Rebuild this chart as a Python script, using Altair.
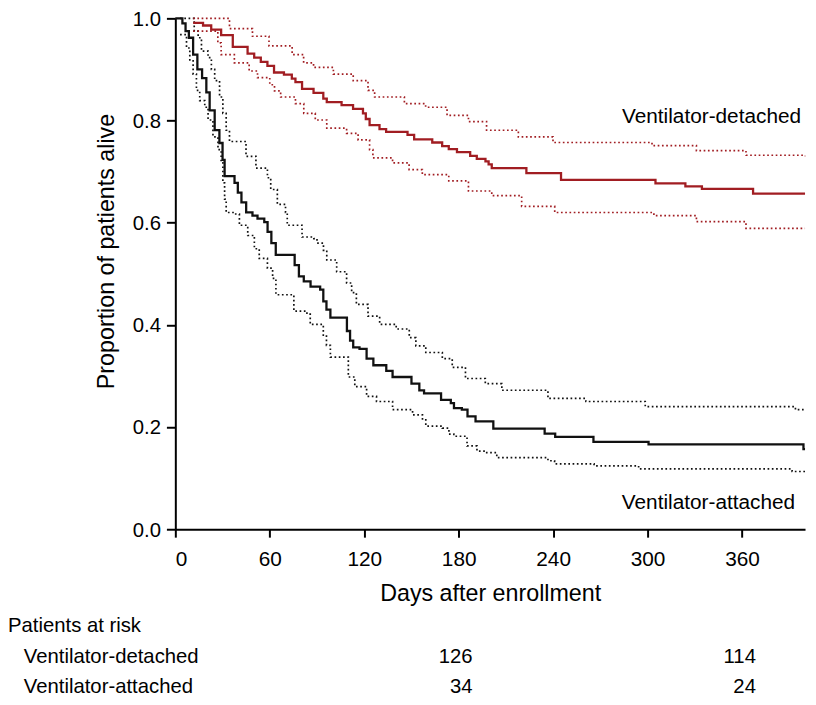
import altair as alt
import pandas as pd

FONT = "Liberation Sans"

# ---- Kaplan-Meier estimates (step-after) ----
att_days = [0, 4.5, 6.5, 8.6, 11.3, 14, 17, 19.7, 21.8, 25, 28, 30, 31.3, 37.6, 39.7, 42, 45, 49,
            52.2, 56.5, 58.6, 61, 63.8, 75.8, 78.5, 81.6, 85.9, 92, 94, 96, 98.5, 109, 111, 113,
            117, 121.5, 125.8, 134, 138, 150, 155, 158, 168.8, 175, 177, 182, 185.6, 190.7, 202,
            234.6, 241.3, 265.6, 300.6, 399, 400]
att_surv = [1.0, 0.99, 0.975, 0.962, 0.929, 0.900, 0.883, 0.855, 0.820, 0.781, 0.756, 0.723, 0.691,
            0.678, 0.659, 0.640, 0.620, 0.614, 0.608, 0.601, 0.582, 0.560, 0.537, 0.517, 0.495,
            0.485, 0.475, 0.469, 0.446, 0.430, 0.414, 0.388, 0.369, 0.356, 0.353, 0.334, 0.321,
            0.310, 0.298, 0.285, 0.272, 0.266, 0.253, 0.247, 0.237, 0.234, 0.221, 0.211, 0.197,
            0.187, 0.181, 0.171, 0.166, 0.157, 0.157]

att_up_days = [3, 12, 14.5, 16.6, 20.8, 22.9, 25, 28.1, 30.2, 32.3, 34.4, 44.9, 51.2, 58.5, 60.6,
               64.8, 70, 71.1, 80.5, 88, 90, 94.1, 96.2, 102.5, 108.8, 112, 115, 122.4, 129.8,
               140.3, 148.6, 152.8, 159.1, 169.6, 175.9, 184.3, 196.9, 207.4, 236.7, 260.8, 298.5,
               393.9, 400]
att_up = [1.0, 0.975, 0.962, 0.936, 0.923, 0.900, 0.878, 0.846, 0.814, 0.781, 0.759, 0.730, 0.707,
          0.688, 0.665, 0.636, 0.620, 0.595, 0.572, 0.569, 0.560, 0.546, 0.527, 0.504, 0.482,
          0.463, 0.440, 0.417, 0.401, 0.392, 0.375, 0.359, 0.346, 0.334, 0.317, 0.295, 0.285,
          0.272, 0.256, 0.250, 0.240, 0.234, 0.234]

att_lo_days = [3, 7.1, 9.2, 11.3, 13.4, 15.5, 18.7, 20.8, 23.9, 27.1, 29.1, 30.2, 31.3, 32.3, 37.5,
               40.7, 46, 50.2, 53.3, 58.5, 61.8, 63.9, 75.3, 83.6, 85.7, 94, 96, 98.5, 109.9, 114,
               121.5, 127.8, 138, 150.7, 157, 159.1, 169.6, 173.8, 176.9, 185.3, 191.6, 196.9,
               204.2, 236.7, 240.9, 266, 294.3, 391.8, 400]
att_lo = [0.968, 0.942, 0.917, 0.891, 0.859, 0.839, 0.826, 0.801, 0.768, 0.743, 0.717, 0.678,
          0.646, 0.620, 0.617, 0.595, 0.575, 0.549, 0.530, 0.511, 0.491, 0.459, 0.427, 0.421,
          0.401, 0.380, 0.360, 0.337, 0.298, 0.279, 0.260, 0.250, 0.234, 0.224, 0.214, 0.202,
          0.198, 0.186, 0.182, 0.163, 0.153, 0.150, 0.140, 0.134, 0.128, 0.124, 0.118, 0.113,
          0.113]

det_days = [11.3, 17.6, 22.8, 29.1, 36.5, 45.9, 50.1, 54.3, 58.5, 62.7, 69, 74, 76.3, 80.5, 87.8,
            94, 96.2, 105.6, 112.9, 119.2, 121, 123.4, 129.7, 133.9, 147.5, 151.7, 163.2, 169.5,
            173.7, 178.9, 187.3, 191.5, 197, 199, 201, 223, 245, 305, 324, 334.5, 367, 400]
det_surv = [0.991, 0.986, 0.978, 0.967, 0.944, 0.931, 0.923, 0.915, 0.907, 0.894, 0.890, 0.882,
            0.875, 0.862, 0.854, 0.843, 0.836, 0.830, 0.823, 0.814, 0.803, 0.791, 0.783, 0.778,
            0.772, 0.763, 0.757, 0.750, 0.744, 0.738, 0.731, 0.725, 0.720, 0.714, 0.707, 0.697,
            0.684, 0.677, 0.671, 0.666, 0.657, 0.657]

det_up_days = [11.3, 34.4, 49, 59.5, 74.2, 81.5, 87.8, 100.4, 113, 122.4, 126.6, 145.5, 159,
               172.6, 186.2, 197.7, 217.9, 239.9, 302.8, 331, 362.5, 400]
det_up = [1.0, 0.980, 0.965, 0.946, 0.929, 0.913, 0.904, 0.891, 0.878, 0.859, 0.846, 0.833,
          0.826, 0.810, 0.798, 0.781, 0.768, 0.757, 0.751, 0.741, 0.732, 0.730]

det_lo_days = [11.3, 27, 29.1, 37.5, 46.9, 52.2, 60, 63, 66.9, 76.3, 81.6, 88.9, 96.2, 108.8,
               116.1, 123.4, 125.5, 138, 148.5, 156.9, 173.7, 186.2, 201, 220, 241, 304, 331,
               362.5, 400]
det_lo = [0.975, 0.952, 0.929, 0.913, 0.897, 0.884, 0.870, 0.858, 0.846, 0.833, 0.814, 0.801,
          0.785, 0.775, 0.762, 0.743, 0.727, 0.717, 0.704, 0.694, 0.682, 0.662, 0.653, 0.632,
          0.620, 0.614, 0.602, 0.589, 0.589]

groups = ["Ventilator-attached", "Ventilator-detached"]
group_colors = ["#111111", "#a11d22"]

x_ticks = [0, 60, 120, 180, 240, 300, 360]
y_ticks = [0.0, 0.2, 0.4, 0.6, 0.8, 1.0]

risk_days = [180, 360]
risk_detached = [126, 114]
risk_attached = [34, 24]


def frame(days, vals, group, kind):
    return pd.DataFrame({"day": days, "value": vals, "group": group,
                         "series": f"{group} {kind}"})


df_main = pd.concat([frame(att_days, att_surv, groups[0], "est"),
                     frame(det_days, det_surv, groups[1], "est")])
df_ci = pd.concat([frame(att_up_days, att_up, groups[0], "upper"),
                   frame(att_lo_days, att_lo, groups[0], "lower"),
                   frame(det_up_days, det_up, groups[1], "upper"),
                   frame(det_lo_days, det_lo, groups[1], "lower")])

xscale = alt.Scale(domain=[0, 400], nice=False, zero=False)
yscale = alt.Scale(domain=[0, 1], nice=False)
xaxis = alt.Axis(values=x_ticks, title="Days after enrollment", tickSize=8, labelPadding=12,
                 labelFontSize=21, titleY=72, titleBaseline="alphabetic")
yaxis = alt.Axis(values=y_ticks, format=".1f", title="Proportion of patients alive",
                 tickSize=9, labelPadding=6, labelFontSize=20.5, labelOffset=1,
                 titleX=-62, titleY=235, titleBaseline="alphabetic")
cscale = alt.Scale(domain=groups, range=group_colors)


def X():
    return alt.X("day:Q", scale=xscale, axis=xaxis)


def Y():
    return alt.Y("value:Q", scale=yscale, axis=yaxis)


ci = alt.Chart(df_ci).mark_line(interpolate="step-after", strokeWidth=1.7,
                                strokeDash=[1.7, 2.6]).encode(
    x=X(), y=Y(), color=alt.Color("group:N", scale=cscale, legend=None),
    detail="series:N")

main = alt.Chart(df_main).mark_line(interpolate="step-after", strokeWidth=2.3).encode(
    x=X(), y=Y(), color=alt.Color("group:N", scale=cscale, legend=None),
    detail="series:N")

lab_det = alt.Chart().mark_text(align="right", baseline="alphabetic", fontSize=21,
                                font=FONT, color="black", dx=-4).encode(
    x=alt.datum(400), y=alt.datum(0.795), text=alt.value("Ventilator-detached"))
lab_att = alt.Chart().mark_text(align="right", baseline="alphabetic", fontSize=21,
                                font=FONT, color="black", dx=-10).encode(
    x=alt.datum(400), y=alt.datum(0.039), text=alt.value("Ventilator-attached"))

# ---- Patients at risk table ----
df_risk_det = pd.DataFrame({"day": risk_days, "n": risk_detached})
df_risk_att = pd.DataFrame({"day": risk_days, "n": risk_attached})

TXT = dict(baseline="alphabetic", fontSize=20.5, font=FONT, color="black")

risk_title = alt.Chart().mark_text(align="left", **TXT).encode(
    x=alt.value(-169), y=alt.value(620), text=alt.value("Patients at risk"))
risk_lab1 = alt.Chart().mark_text(align="left", **TXT).encode(
    x=alt.value(-153), y=alt.value(651), text=alt.value("Ventilator-detached"))
risk_lab2 = alt.Chart().mark_text(align="left", **TXT).encode(
    x=alt.value(-153), y=alt.value(681), text=alt.value("Ventilator-attached"))
risk_n1 = alt.Chart(df_risk_det).mark_text(align="right", dx=14, **TXT).encode(
    x=alt.X("day:Q", scale=xscale, axis=xaxis), y=alt.value(651), text="n:Q")
risk_n2 = alt.Chart(df_risk_att).mark_text(align="right", dx=14, **TXT).encode(
    x=alt.X("day:Q", scale=xscale, axis=xaxis), y=alt.value(681), text="n:Q")

chart = alt.layer(ci, main, lab_det, lab_att, risk_title, risk_lab1, risk_lab2,
                  risk_n1, risk_n2).properties(
    width=636, height=516,
    autosize=alt.AutoSizeParams(type="none"),
    padding={"left": 169, "top": 7, "right": 3, "bottom": 167},
).configure(
    background="white"
).configure_axis(
    domainColor="black", domainWidth=2, tickColor="black", tickWidth=2,
    labelColor="black", titleColor="black", labelFont=FONT, titleFont=FONT,
    titleFontSize=23.5, titleFontWeight="normal", grid=False,
).configure_view(stroke=None)

chart.save("out.html", embed_options={"renderer": "svg", "actions": False})
